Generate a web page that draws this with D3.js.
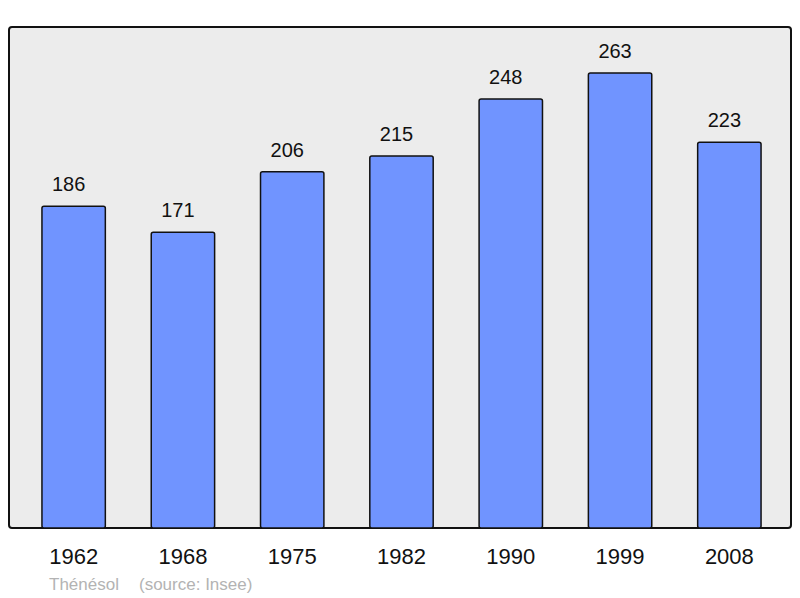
<!DOCTYPE html>
<html><head><meta charset="utf-8">
<script src="https://cdn.jsdelivr.net/npm/d3@7"></script>
<style>body{margin:0;background:#fff}svg{display:block}</style>
</head><body>
<script>
const years = ["1962","1968","1975","1982","1990","1999","2008"];
const population = [186,171,206,215,248,263,223];
const credit = "Thénésol";
const source = "(source: Insee)";

const W = 800, H = 598;
const svg = d3.select("body").append("svg").attr("width", W).attr("height", H);
const font = "'Liberation Sans', Arial, sans-serif";

svg.append("rect").attr("x", 9).attr("y", 27).attr("width", 782).attr("height", 501)
  .attr("rx", 3).attr("fill", "#ececec").attr("stroke", "#111").attr("stroke-width", 2);

const x = d3.scaleBand().domain(years).range([19, 784]).paddingInner(0.42).paddingOuter(0.21);
const y = d3.scaleLinear().domain([0, 289.6]).range([528, 27]);

svg.selectAll("rect.bar").data(population).join("rect").attr("class","bar")
  .attr("x", (d,i) => x(years[i])).attr("y", d => y(d))
  .attr("width", x.bandwidth()).attr("height", d => y(0) - y(d))
  .attr("rx", 2).attr("fill", "#7094ff").attr("stroke", "#111").attr("stroke-width", 1.5);

svg.selectAll("text.val").data(population).join("text").attr("class","val")
  .attr("x", (d,i) => x(years[i]) + x.bandwidth()/2 - 5).attr("y", d => y(d) - 15)
  .attr("text-anchor","middle").attr("font-family", font).attr("font-size", 20).attr("fill","#111")
  .text(d => d);

const xa = svg.append("g").attr("transform", "translate(0,528)")
  .call(d3.axisBottom(x).tickSize(0).tickPadding(20));
xa.select(".domain").remove();
xa.selectAll("text").attr("font-family", font).attr("font-size", 22).attr("fill","#111");

svg.append("text").attr("x", 49).attr("y", 590).attr("font-family", font).attr("font-size", 17)
  .attr("fill", "#b3b3b3").text(credit);
svg.append("text").attr("x", 139).attr("y", 590).attr("font-family", font).attr("font-size", 17)
  .attr("fill", "#b3b3b3").text(source);
</script>
</body></html>
